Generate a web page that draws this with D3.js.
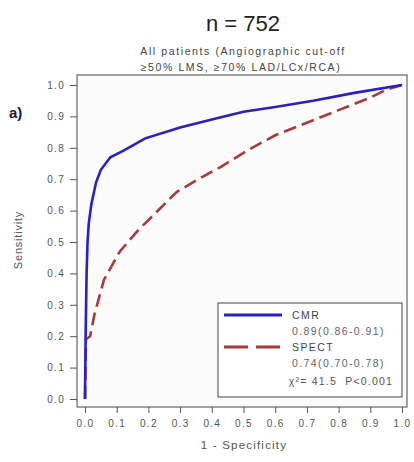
<!DOCTYPE html>
<html>
<head>
<meta charset="utf-8">
<script src="https://cdn.jsdelivr.net/npm/d3@7"></script>
<style>
  body { margin: 0; background: #fff; font-family: "Liberation Sans", Arial, sans-serif; }
  #chart { width: 414px; height: 462px; }
  .tick text { fill: #555; font-size: 10px; letter-spacing: 1.3px; }
  .tick line, .domain { stroke: #555; }
</style>
</head>
<body>
<div id="chart"></div>
<script>
// ROC points [1 - specificity, sensitivity]
var cmrPts = [[0,0],[0.002,0.2],[0.005,0.4],[0.008,0.5],[0.012,0.56],[0.02,0.62],[0.035,0.69],[0.05,0.73],
  [0.08,0.77],[0.12,0.79],[0.19,0.83],[0.3,0.865],[0.4,0.89],[0.5,0.915],[0.6,0.93],[0.72,0.95],[0.85,0.975],[1,1]];
var spectPts = [[0,0],[0.003,0.19],[0.016,0.2],[0.03,0.27],[0.06,0.38],[0.11,0.47],[0.17,0.54],[0.22,0.59],
  [0.29,0.66],[0.375,0.71],[0.43,0.74],[0.51,0.79],[0.6,0.84],[0.7,0.88],[0.8,0.92],[0.9,0.96],[0.95,0.985],[1,1]];
var ticks = [0,0.1,0.2,0.3,0.4,0.5,0.6,0.7,0.8,0.9,1.0];
var legendLabels = ["CMR", "0.89(0.86-0.91)", "SPECT", "0.74(0.70-0.78)"];

var chart = document.getElementById("chart"),
    width = 414, height = 462,
    box = {left: 77, right: 407, top: 75, bottom: 407};

var svg = d3.select(chart).append("svg")
  .attr("width", width)
  .attr("height", height);

var x = d3.scaleLinear().domain([0, 1]).range([85, 402]);
var y = d3.scaleLinear().domain([0, 1]).range([399, 85]);

// frame
svg.append("rect")
  .attr("x", box.left).attr("y", box.top)
  .attr("width", box.right - box.left).attr("height", box.bottom - box.top)
  .attr("fill", "#fbfbfc").attr("stroke", "#666").attr("stroke-width", 1.2);

svg.append("g")
  .attr("transform", "translate(0," + box.bottom + ")")
  .call(d3.axisBottom(x).tickValues(ticks).tickFormat(d3.format(".1f")).tickSize(6).tickSizeOuter(0).tickPadding(7))
  .call(function(g){ g.select(".domain").remove(); });

svg.append("g")
  .attr("transform", "translate(" + box.left + ",0)")
  .call(d3.axisLeft(y).tickValues(ticks).tickFormat(d3.format(".1f")).tickSize(7).tickSizeOuter(0).tickPadding(5))
  .call(function(g){ g.select(".domain").remove(); });

var line = d3.line().x(function(d){ return x(d[0]); }).y(function(d){ return y(d[1]); });

svg.append("path")
  .datum(spectPts)
  .attr("d", line)
  .attr("fill", "none")
  .attr("stroke", "#a83a3a")
  .attr("stroke-width", 2.6)
  .attr("stroke-dasharray", "13,6");

svg.append("path")
  .datum(cmrPts)
  .attr("d", line)
  .attr("fill", "none")
  .attr("stroke", "#2a1fc4")
  .attr("stroke-width", 2.6);

// titles
svg.append("text").attr("x", 243).attr("y", 31).attr("text-anchor", "middle")
  .attr("font-size", 22).attr("fill", "#222").text("n = 752");
svg.append("text").attr("x", 243).attr("y", 55).attr("text-anchor", "middle")
  .attr("font-size", 10.5).attr("letter-spacing", 1.6).attr("fill", "#444").text("All patients (Angiographic cut-off");
svg.append("text").attr("x", 241).attr("y", 71).attr("text-anchor", "middle")
  .attr("font-size", 10.5).attr("letter-spacing", 1.6).attr("fill", "#444").text("≥50% LMS, ≥70% LAD/LCx/RCA)");

svg.append("text").attr("x", 9).attr("y", 118)
  .attr("font-size", 15).attr("font-weight", "bold").attr("fill", "#222").text("a)");

svg.append("text").attr("transform", "translate(22,240) rotate(-90)").attr("text-anchor", "middle")
  .attr("font-size", 11).attr("letter-spacing", 0.8).attr("fill", "#555").text("Sensitivity");

svg.append("text").attr("x", 244).attr("y", 449).attr("text-anchor", "middle")
  .attr("font-size", 11.5).attr("letter-spacing", 1.2).attr("fill", "#555").text("1 - Specificity");

// legend
var leg = svg.append("g");
leg.append("rect").attr("x", 218).attr("y", 303).attr("width", 184).attr("height", 94)
  .attr("fill", "#fff").attr("stroke", "#444").attr("stroke-width", 1);
leg.append("line").attr("x1", 224).attr("x2", 282).attr("y1", 315).attr("y2", 315)
  .attr("stroke", "#2a1fc4").attr("stroke-width", 3);
leg.append("line").attr("x1", 224).attr("x2", 282).attr("y1", 347).attr("y2", 347)
  .attr("stroke", "#a83a3a").attr("stroke-width", 3).attr("stroke-dasharray", "24,8");
leg.selectAll("text.lab")
  .data(legendLabels)
  .enter().append("text")
  .attr("class", "lab")
  .attr("x", 292)
  .attr("y", function(d, i){ return 319 + i * 16; })
  .attr("font-size", 10.5)
  .attr("letter-spacing", 1.4)
  .attr("fill", function(d, i){ return i % 2 ? "#666" : "#444"; })
  .text(function(d){ return d; });
leg.append("text").attr("x", 393).attr("y", 385).attr("text-anchor", "end")
  .attr("font-size", 10.5).attr("letter-spacing", 1.2).attr("fill", "#555")
  .attr("xml:space", "preserve").text("χ²= 41.5  P<0.001");
</script>
</body>
</html>
